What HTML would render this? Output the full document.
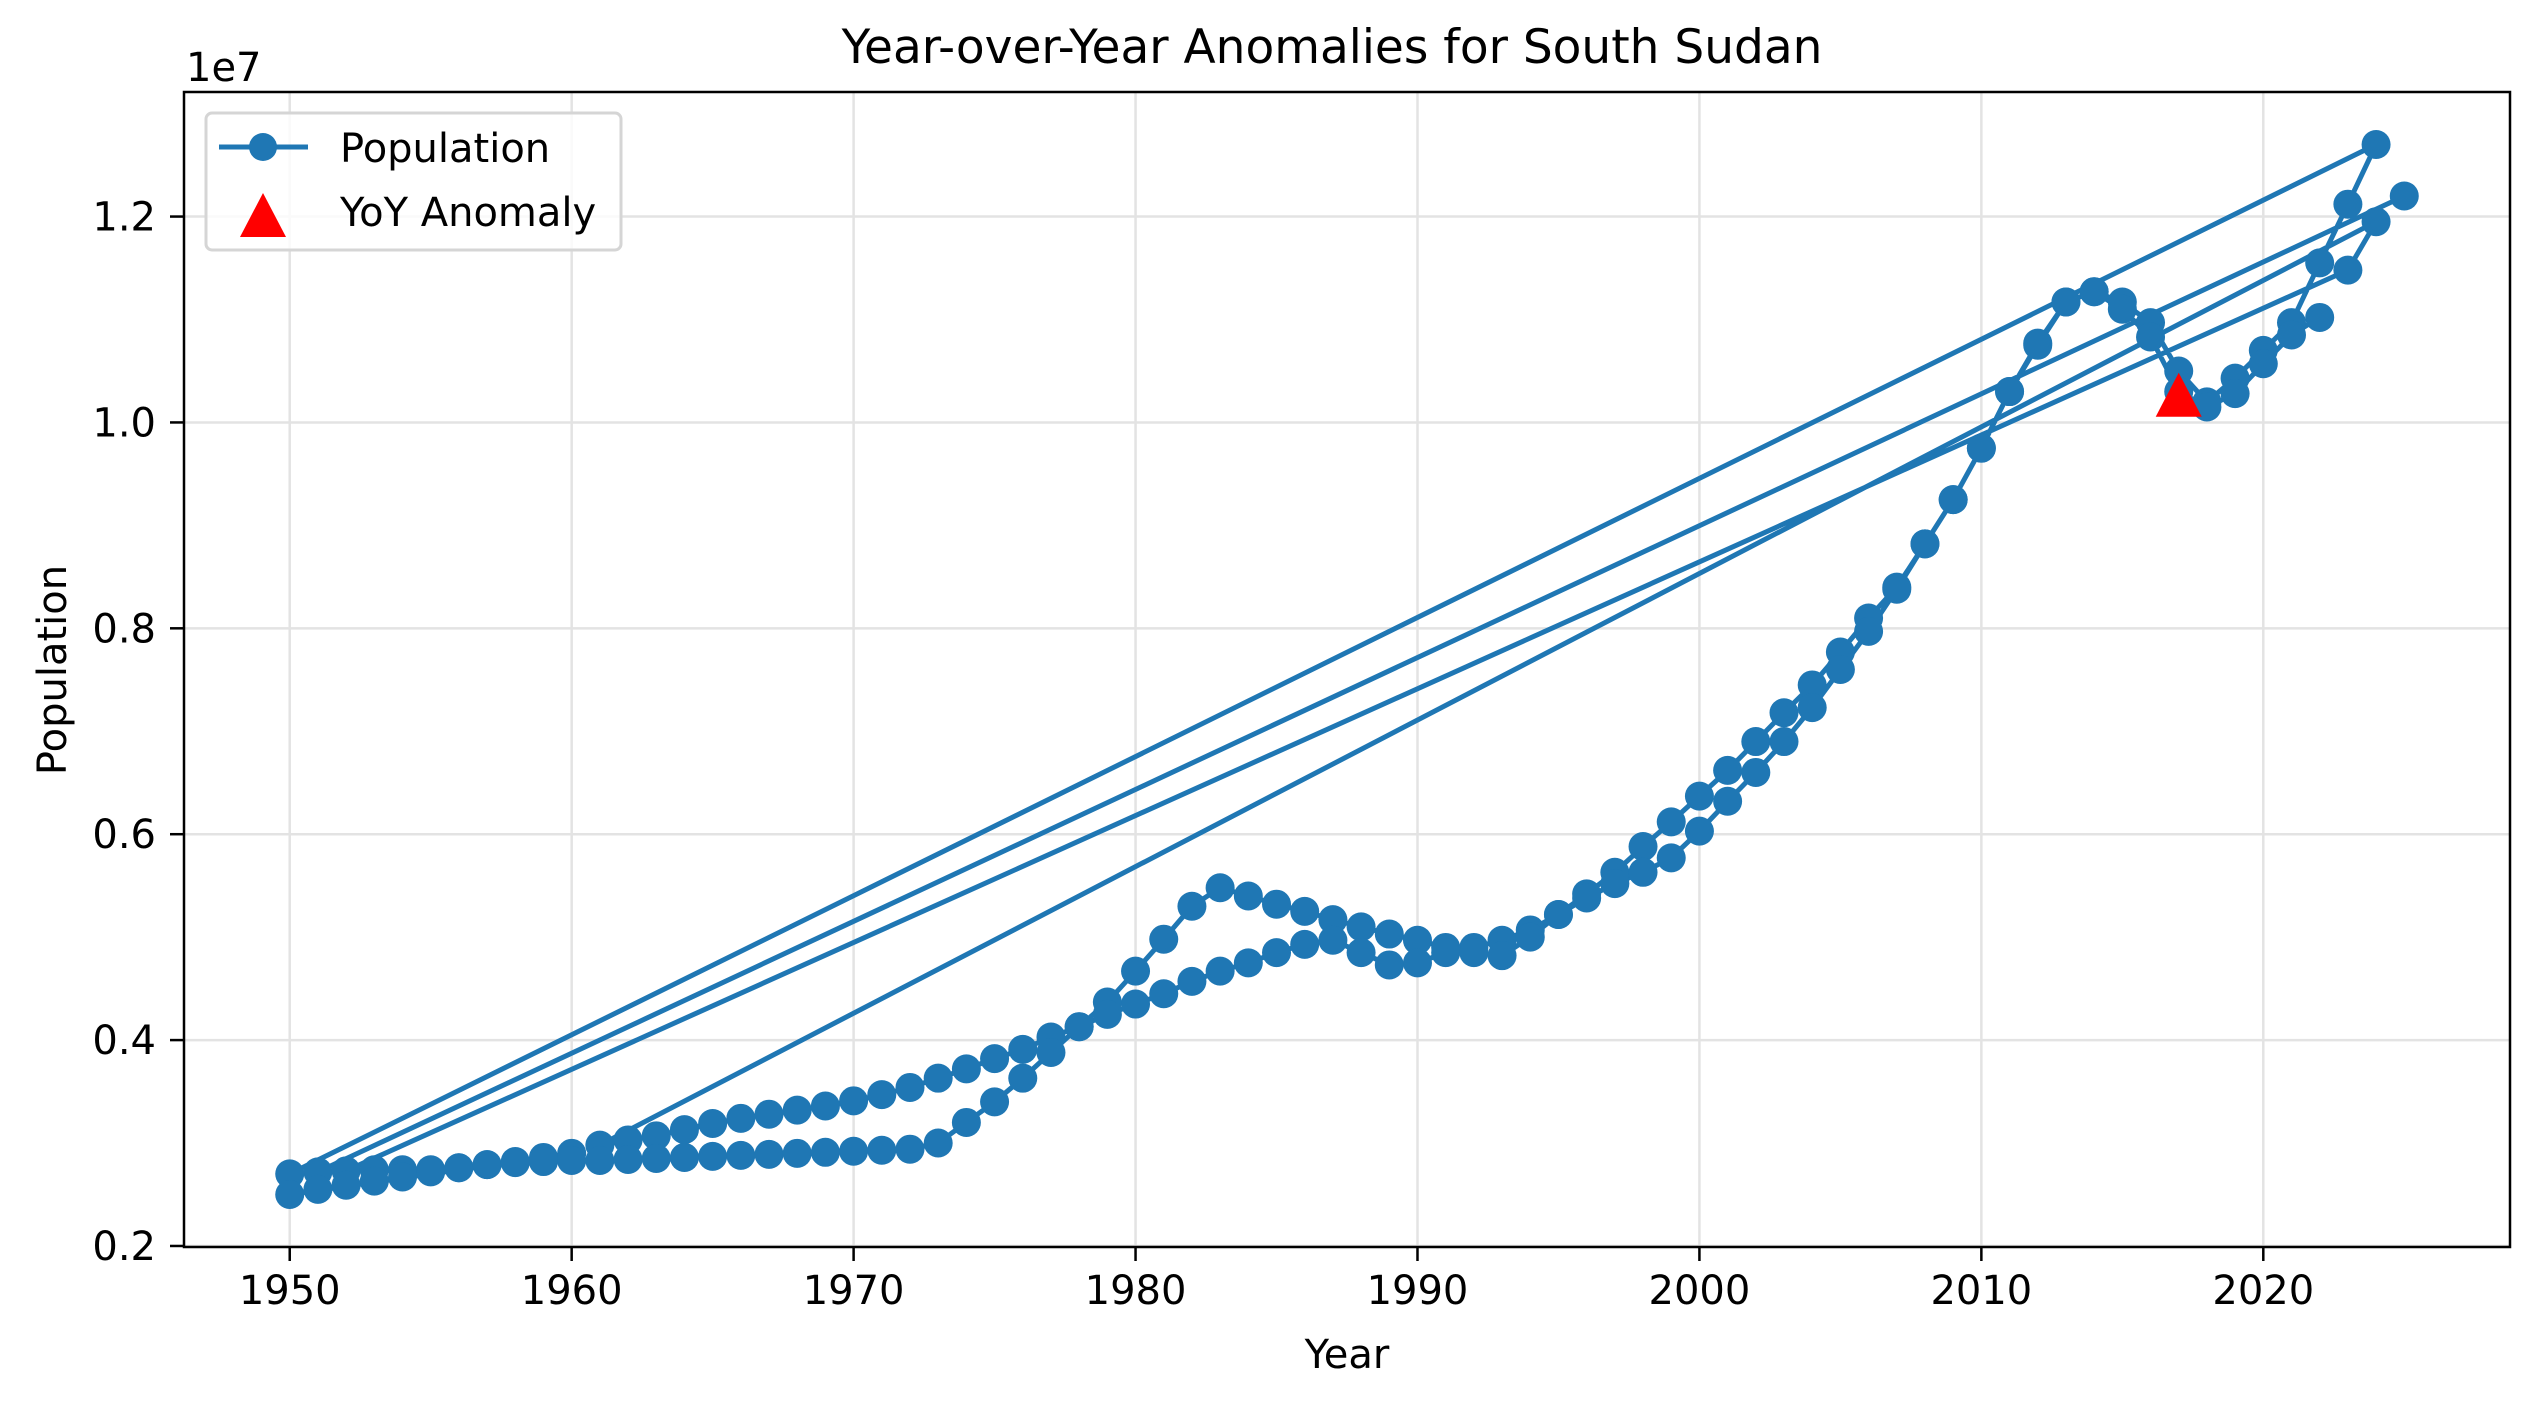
<!DOCTYPE html>
<html><head><meta charset="utf-8"><style>
html,body{margin:0;padding:0;background:#fff}
svg{display:block}
text{font-family:"DejaVu Sans","Liberation Sans",sans-serif;fill:#000}
</style></head><body>
<svg id="chart" width="2539" height="1407" viewBox="0 0 2539 1407">
<text x="1332" y="63" font-size="47" text-anchor="middle">Year-over-Year Anomalies for South Sudan</text>
<g id="grid"></g>
<g id="series"></g>
<g id="anoms"></g>
<rect x="184" y="92" width="2326" height="1155" fill="none" stroke="#000" stroke-width="2.5"/>
<g id="xticks"></g>
<g id="yticks"></g>
<text x="186" y="81" font-size="40">1e7</text>
<text x="1347" y="1368" font-size="40" text-anchor="middle">Year</text>
<text transform="translate(66,670) rotate(-90)" font-size="40" text-anchor="middle">Population</text>
<g>
<rect x="206" y="113" width="415" height="137" rx="6" fill="#fff" fill-opacity="0.8" stroke="#d5d5d5" stroke-width="3"/>
<line x1="219" y1="147" x2="308" y2="147" stroke="#1f77b4" stroke-width="5"/>
<circle cx="263" cy="147" r="14" fill="#1f77b4"/>
<text x="340" y="162" font-size="40">Population</text>
<polygon points="263,193 286,237 240,237" fill="#ff0000"/>
<text x="340" y="226" font-size="40">YoY Anomaly</text>
</g>
</svg>
<script>
// drawing-order data (millions)
const seqYears = [
2025,1951,1950,
2024,2023,2022,2021,2020,2019,2018,2017,2016,2015,2014,2013,2012,2011,2010,2009,2008,2007,2006,2005,2004,2003,2002,2001,2000,1999,1998,1997,1996,1995,1994,1993,1992,1991,1990,1989,1988,1987,1986,1985,1984,1983,1982,1981,1980,1979,1978,1977,1976,1975,1974,1973,1972,1971,1970,1969,1968,1967,1966,1965,1964,1963,1962,1961,
2024,2023,
1952,1953,1954,1955,1956,1957,1958,1959,1960,
1950,1951,1952,1953,1954,1955,1956,1957,1958,1959,1960,1961,1962,1963,1964,1965,1966,1967,1968,1969,1970,1971,1972,1973,1974,1975,1976,1977,1978,1979,1980,1981,1982,1983,1984,1985,1986,1987,1988,1989,1990,1991,1992,1993,1994,1995,1996,1997,1998,1999,2000,2001,2002,2003,2004,2005,2006,2007,2008,2009,2010,2011,2012,2013,2014,2015,2016,2017,2018,2019,2020,2021,2022];
const seqValues = [
12.20,2.72,2.70,
12.70,12.12,11.55,10.97,10.70,10.43,10.20,10.50,10.97,11.17,11.27,11.17,10.77,10.30,9.75,9.25,8.82,8.40,8.10,7.77,7.45,7.18,6.90,6.62,6.37,6.12,5.88,5.63,5.42,5.22,5.07,4.97,4.90,4.90,4.97,5.03,5.10,5.17,5.25,5.32,5.40,5.48,5.30,4.98,4.67,4.37,4.13,4.03,3.91,3.82,3.72,3.63,3.54,3.47,3.41,3.36,3.32,3.28,3.24,3.19,3.13,3.07,3.03,2.98,
11.95,11.48,
2.73,2.74,2.74,2.74,2.76,2.79,2.82,2.86,2.90,
2.50,2.55,2.59,2.63,2.67,2.72,2.76,2.79,2.81,2.82,2.83,2.83,2.84,2.85,2.86,2.87,2.88,2.89,2.90,2.91,2.92,2.93,2.94,3.00,3.20,3.40,3.63,3.88,4.13,4.25,4.35,4.45,4.57,4.67,4.75,4.85,4.93,4.97,4.85,4.73,4.75,4.85,4.85,4.82,5.00,5.22,5.38,5.52,5.63,5.77,6.03,6.32,6.60,6.90,7.23,7.60,7.97,8.38,8.82,9.25,9.75,10.30,10.75,11.17,11.27,11.10,10.83,10.30,10.15,10.28,10.57,10.85,11.02];
const anomalyYears = [2017];
const anomalyValues = [10.25];
const xTickLabels = ["1950","1960","1970","1980","1990","2000","2010","2020"];
const xTickValues = [1950,1960,1970,1980,1990,2000,2010,2020];
const yTickValues = [0.2,0.4,0.6,0.8,1.0,1.2];
const yTickLabels = ["0.2","0.4","0.6","0.8","1.0","1.2"];

const L=184,R=2510,T=92,B=1247;
const xMin=1946.25,xMax=2028.75,yMin=1.99,yMax=13.21;
function xs(v){return L+(v-xMin)/(xMax-xMin)*(R-L);}
function ys(v){return B-(v-yMin)/(yMax-yMin)*(B-T);}
const NS="http://www.w3.org/2000/svg";
function mk(tag,attrs,parent){const e=document.createElementNS(NS,tag);for(const k in attrs)e.setAttribute(k,attrs[k]);parent.appendChild(e);return e;}
const grid=document.getElementById('grid'),xt=document.getElementById('xticks'),yt=document.getElementById('yticks');
xTickValues.forEach((v,i)=>{
  const x=xs(v);
  const g=mk('line',{x1:x,y1:T,x2:x,y2:B,stroke:'#e3e3e3','stroke-width':2.5},grid);
  
  
  const t=mk('line',{x1:x,y1:B,x2:x,y2:B+14,stroke:'#000','stroke-width':2.5},xt);
  
  
  const l=mk('text',{x:x,y:B+57,'font-size':40,'text-anchor':'middle'},xt);
  l.textContent=xTickLabels[i];
  
  
});
yTickValues.forEach((v,i)=>{
  const y=ys(v*10);
  const g=mk('line',{x1:L,y1:y,x2:R,y2:y,stroke:'#e3e3e3','stroke-width':2.5},grid);
  
  
  const t=mk('line',{x1:L-14,y1:y,x2:L,y2:y,stroke:'#000','stroke-width':2.5},yt);
  
  
  const l=mk('text',{x:L-28,y:y+14,'font-size':40,'text-anchor':'end'},yt);
  l.textContent=yTickLabels[i];
  
  
});
const ser=document.getElementById('series');
const pts=seqYears.map((yr,i)=>xs(yr).toFixed(1)+','+ys(seqValues[i]).toFixed(1)).join(' ');
const pl=mk('polyline',{points:pts,fill:'none',stroke:'#1f77b4','stroke-width':5,'stroke-linejoin':'round'},ser);


seqYears.forEach((yr,i)=>{
  const c=mk('circle',{cx:xs(yr),cy:ys(seqValues[i]),r:14.5,fill:'#1f77b4'},ser);
  
  
});
const an=document.getElementById('anoms');
anomalyYears.forEach((yr,i)=>{
  const x=xs(yr),y=ys(anomalyValues[i]);
  const p=mk('polygon',{points:`${x},${y-24} ${x+23},${y+20} ${x-23},${y+20}`,fill:'#ff0000'},an);
  
  
});
</script>
</body></html>
